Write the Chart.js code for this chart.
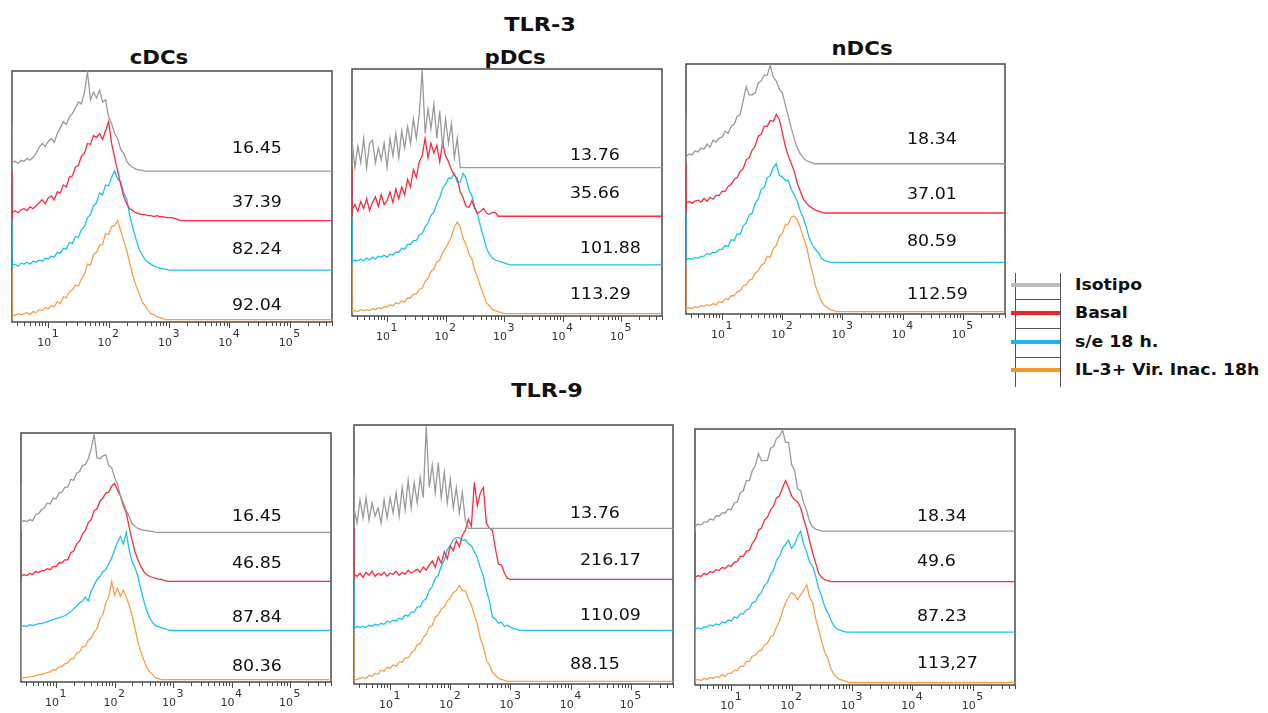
<!DOCTYPE html>
<html>
<head>
<meta charset="utf-8">
<script src="https://cdn.jsdelivr.net/npm/chart.js@4.4.1/dist/chart.umd.min.js"></script>
<style>
  body { margin: 0; width: 1268px; height: 713px; background: #fff; position: relative; overflow: hidden;
         font-family: "DejaVu Sans", sans-serif; }
  .panel { position: absolute; }
  .title { position: absolute; font-weight: bold; color: #111; white-space: nowrap; line-height: 1;
           transform: translateX(-50%) scaleX(1.12); }
  .legend { position: absolute; left: 1015px; top: 273px; width: 250px; height: 114px; }
  .legend .col { position: absolute; top: 0; width: 1px; height: 114px; background: #555; }
  .legend .sep { position: absolute; left: 0; width: 45px; height: 1px; background: #555; }
  .legend .swatch { position: absolute; left: -4px; width: 49px; height: 4px; }
  .legend .txt { position: absolute; left: 60px; font-weight: bold; font-size: 16px; line-height: 1;
                 color: #111; white-space: nowrap; transform-origin: left center; transform: scaleX(1.08); }
</style>
</head>
<body>
<div class="title" style="left:540px;top:14px;font-size:20px">TLR-3</div>
<div class="title" style="left:159px;top:48px;font-size:19px">cDCs</div>
<div class="title" style="left:515px;top:48px;font-size:19px">pDCs</div>
<div class="title" style="left:862px;top:39px;font-size:19px">nDCs</div>
<div class="title" style="left:547px;top:380px;font-size:20px">TLR-9</div>

<div class="legend" id="legend"></div>

<script>
// ---- data ----
const SERIES = ['Isotipo', 'Basal', 's/e 18 h.', 'IL-3+ Vir. Inac. 18h'];
const COLORS = ['#9a9a9a', '#ff2a3c', '#1fc2ee', '#f7a04a'];
const LEGEND_COLORS = ['#bdbdbd', '#e8262e', '#1ab6ee', '#f5952e'];

// log10 fluorescence bin centres (x positions of histogram points)
const BINS = [0.40, 0.45, 0.50, 0.55, 0.60, 0.65, 0.70, 0.75, 0.80, 0.85,
              0.90, 0.95, 1.00, 1.05, 1.10, 1.15, 1.20, 1.25, 1.30, 1.35,
              1.40, 1.45, 1.50, 1.55, 1.60, 1.65, 1.70, 1.75, 1.80, 1.85,
              1.90, 1.95, 2.00, 2.05, 2.10, 2.15, 2.20, 2.25, 2.30, 2.35,
              2.40, 2.45, 2.50, 2.55, 2.60, 2.65, 2.70, 2.75, 2.80, 2.85,
              2.90, 2.95, 3.00, 3.05, 3.10, 3.15, 3.20];
const TICK_EXP = [1, 2, 3, 4, 5];
const TICK_BASE = '10';

// % of mode, one value per bin
const T3_CDC_ISO   = [9,10,8,11,10,13,11,14,18,24, 28,25,30,33,29,38,44,50,47,55, 58,64,70,68,80,100,72,80,74,82, 70,72,55,48,38,33,22,18,10,6, 4,2,1,1,0];
const T3_CDC_BASAL = [8,10,8,11,12,10,14,12,15,18, 21,17,23,25,21,29,28,36,34,44, 45,54,56,65,68,78,77,86,84,88, 82,91,100,78,64,50,37,24,17,12, 10,8,7,6,6,5,5,4,5,4, 4,3,3,3,2,1,0];
const T3_CDC_SE    = [5,6,4,7,6,8,6,9,8,10, 9,12,11,14,13,18,17,22,21,28, 27,34,33,41,44,53,56,65,68,78, 76,86,85,94,100,92,89,78,72,55, 43,32,22,16,11,8,6,4,3,2, 1,1,0];
const T3_CDC_IL3   = [5,4,6,5,6,7,5,8,7,10, 9,12,11,14,13,18,16,23,22,28, 30,35,34,41,46,56,55,66,68,75, 76,87,86,94,95,100,90,80,70,57, 45,35,27,19,14,10,6,5,3,2, 1,0];

const T3_PDC_ISO   = [28,0,22,5,30,0,25,28,5,20, 8,25,0,30,12,35,10,38,20,42, 25,50,30,55,100,35,60,40,65,30, 58,20,50,25,45,10,30,0];
const T3_PDC_BASAL = [6,12,5,15,8,18,6,14,20,10, 22,12,16,25,14,28,18,30,22,38, 30,48,40,56,62,80,60,75,65,73, 56,76,62,56,48,42,39,25,19,10, 9,16,8,3,5,8,3,2,4,4, 0];
const T3_PDC_SE    = [3,5,4,6,4,7,5,8,6,9, 8,10,8,11,10,13,13,17,16,21, 21,25,25,31,32,39,43,51,54,63, 69,79,83,89,89,94,85,85,94,89, 77,71,59,51,39,28,17,11,7,5, 4,3,2,1,0];
const T3_PDC_IL3   = [2,3,2,4,3,4,3,5,4,6, 5,7,7,9,8,11,10,13,12,16, 16,20,20,25,26,33,36,43,46,53, 55,63,67,73,79,89,94,89,77,71, 61,56,44,37,27,19,11,8,4,3, 2,1,0];

const T3_NDC_ISO   = [7,10,9,13,12,16,15,20,17,24, 22,26,27,33,31,38,40,48,50,64, 78,70,70,72,82,84,90,90,100,88, 84,76,72,60,48,36,25,16,10,6, 3,2,1,0];
const T3_NDC_BASAL = [10,12,10,12,13,11,15,12,16,14, 18,18,22,22,27,29,34,36,42,45, 54,56,64,68,78,80,88,88,94,93, 100,95,82,68,58,50,42,30,22,14, 10,7,5,3,2,1,0];
const T3_NDC_SE    = [2,4,3,5,4,6,6,9,8,10, 10,13,13,17,16,23,22,29,28,37, 40,48,50,60,64,74,76,86,88,96, 100,88,87,83,83,74,68,62,52,45, 35,24,18,13,10,4,2,1,0];
const T3_NDC_IL3   = [3,4,3,5,4,6,5,7,6,8, 7,10,9,13,12,16,16,20,21,26, 27,32,33,39,41,47,49,56,55,64, 67,76,79,88,89,96,97,93,85,75, 67,52,40,26,18,10,6,4,2,1, 0];

const T9_CDC_ISO   = [10,12,11,13,12,18,19,23,25,30, 29,35,34,40,41,46,46,54,53,60, 62,68,69,75,85,100,76,75,78,79, 68,66,56,49,37,30,22,16,9,6, 4,3,2,2,1,1,0];
const T9_CDC_BASAL = [5,7,6,8,7,10,9,11,11,13, 12,15,15,19,19,22,22,29,31,38, 41,48,52,60,63,72,74,82,85,90, 91,97,100,93,87,77,70,55,42,30, 22,15,10,7,5,4,3,2,2,1, 0];
const T9_CDC_SE    = [4,5,4,6,5,6,7,7,8,9, 10,11,12,13,14,15,17,19,22,25, 28,30,34,30,40,46,52,55,60,62, 68,74,82,90,96,88,100,82,70,64, 55,42,30,20,13,8,5,4,3,2, 1,0];
const T9_CDC_IL3   = [1,2,2,3,3,4,5,5,6,7, 8,10,10,13,13,16,17,21,21,27, 28,33,34,40,42,48,52,62,66,78, 84,100,86,93,85,91,84,76,65,52, 38,28,20,12,8,5,2,1,0];

const T9_PDC_ISO   = [20,5,28,10,30,8,25,12,20,5, 28,10,30,15,35,12,40,18,47,20, 45,25,50,30,100,40,62,35,64,30, 55,25,48,20,40,15,35,8,0];
const T9_PDC_BASAL = [5,3,6,2,7,4,8,3,6,4, 7,3,6,5,8,4,7,5,9,6, 8,10,7,12,9,14,18,12,22,16, 27,20,33,28,38,32,43,48,59,52, 95,72,85,90,55,50,48,30,15,14, 6,1,0];
const T9_PDC_SE    = [2,4,3,4,3,5,4,6,5,7, 6,9,8,10,9,12,11,15,14,18, 18,23,23,29,31,39,43,51,54,63, 69,79,83,89,91,91,88,89,85,83, 77,71,61,53,39,29,13,11,7,8, 4,5,3,2,1,0];
const T9_PDC_IL3   = [1,2,3,4,3,6,5,8,7,11, 10,14,13,16,15,19,19,23,23,28, 30,36,37,43,46,53,55,63,65,71, 73,79,82,87,89,94,89,89,81,75, 65,56,42,34,21,16,9,6,3,2, 1,0];

const T9_NDC_ISO   = [5,7,6,9,9,12,11,15,15,18, 18,22,21,28,29,38,40,50,50,60, 65,77,70,70,70,82,84,92,94,100, 88,88,66,60,42,40,28,20,9,4, 2,1,0];
const T9_NDC_BASAL = [4,6,5,8,7,10,9,12,11,14, 13,16,15,19,20,25,25,30,31,38, 42,51,53,61,64,71,75,83,85,93, 100,93,85,81,79,73,62,52,40,28, 18,8,4,2,1,0];
const T9_NDC_SE    = [3,4,3,5,5,7,6,8,7,10, 9,12,11,15,14,18,18,22,23,29, 30,36,39,46,49,57,61,71,75,83, 87,91,83,87,95,100,87,79,69,65, 55,43,35,25,19,12,6,3,2,1, 0];
const T9_NDC_IL3   = [2,3,2,4,3,5,4,6,5,8, 6,9,9,12,12,16,16,21,21,26, 27,31,32,37,39,45,47,55,61,71, 79,85,89,87,82,87,91,97,84,79, 63,52,40,30,24,14,8,5,3,2, 1,0];

// MFI shown next to each histogram
const T3_CDC_MFI = ['16.45', '37.39', '82.24', '92.04'];
const T3_PDC_MFI = ['13.76', '35.66', '101.88', '113.29'];
const T3_NDC_MFI = ['18.34', '37.01', '80.59', '112.59'];
const T9_CDC_MFI = ['16.45', '46.85', '87.84', '80.36'];
const T9_PDC_MFI = ['13.76', '216.17', '110.09', '88.15'];
const T9_NDC_MFI = ['18.34', '49.6', '87.23', '113,27'];

// ---- layout ----
const X_MIN = 0.4, X_MAX = 5.7;
const Y_MIN = -1, Y_MAX = 100.5;
const OFFSETS = [60, 40, 20, 0];   // staggered baselines
const SCALE = 0.4;                 // 100% of mode = 40 y-units
const EDGE = 50;                   // first (off-scale) bin

const PANELS = [
  { box: [12, 71, 320, 251],  curves: [T3_CDC_ISO, T3_CDC_BASAL, T3_CDC_SE, T3_CDC_IL3], mfi: T3_CDC_MFI, lx: [220, 220, 220, 220], dy: [22, 18, 20, 13] },
  { box: [352, 69, 310, 247], curves: [T3_PDC_ISO, T3_PDC_BASAL, T3_PDC_SE, T3_PDC_IL3], mfi: T3_PDC_MFI, lx: [218, 218, 228, 218], dy: [11, 22, 16, 18] },
  { box: [686, 64, 319, 250], curves: [T3_NDC_ISO, T3_NDC_BASAL, T3_NDC_SE, T3_NDC_IL3], mfi: T3_NDC_MFI, lx: [221, 221, 221, 221], dy: [24, 18, 20, 16] },
  { box: [21, 433, 310, 249], curves: [T9_CDC_ISO, T9_CDC_BASAL, T9_CDC_SE, T9_CDC_IL3], mfi: T9_CDC_MFI, lx: [211, 211, 211, 211], dy: [15, 17, 12, 12] },
  { box: [354, 425, 319, 259], curves: [T9_PDC_ISO, T9_PDC_BASAL, T9_PDC_SE, T9_PDC_IL3], mfi: T9_PDC_MFI, lx: [216, 226, 226, 216], dy: [14, 18, 14, 16] },
  { box: [695, 429, 320, 256], curves: [T9_NDC_ISO, T9_NDC_BASAL, T9_NDC_SE, T9_NDC_IL3], mfi: T9_NDC_MFI, lx: [222, 222, 222, 222], dy: [14, 19, 15, 18] },
];

function toPoints(h, offset) {
  const pts = [{ x: X_MIN, y: offset }, { x: X_MIN, y: offset + EDGE * SCALE }];
  h.forEach((v, i) => pts.push({ x: BINS[i], y: offset + v * SCALE }));
  pts.push({ x: X_MAX, y: offset });
  return pts;
}

// frame, log ticks, decade labels and MFI labels
const flowPlugin = {
  id: 'flow',
  beforeDatasetsDraw(chart) {
    const { ctx, chartArea: a } = chart;
    const xs = chart.scales.x;
    ctx.save();
    ctx.strokeStyle = '#4a4a4a';
    ctx.lineWidth = 1.5;
    ctx.strokeRect(a.left, a.top, a.width, a.height);
    ctx.lineWidth = 1;
    for (let n = 0; n <= 5; n++) {
      for (let k = 1; k <= 9; k++) {
        const v = n + Math.log10(k);
        if (v < xs.min || v > xs.max) continue;
        const px = Math.round(xs.getPixelForValue(v)) + 0.5;
        ctx.beginPath();
        ctx.moveTo(px, a.bottom);
        ctx.lineTo(px, a.bottom + (k === 1 ? 6 : 4));
        ctx.stroke();
      }
    }
    // decade labels: 10 with raised exponent
    ctx.fillStyle = '#333';
    ctx.font = '11px "DejaVu Sans"';
    ctx.textBaseline = 'middle';
    ctx.textAlign = 'center';
    TICK_EXP.forEach(e => {
      const px = xs.getPixelForValue(e);
      ctx.fillText(TICK_BASE, px - 4, a.bottom + 21);
      ctx.fillText(String(e), px + 7, a.bottom + 12);
    });
    ctx.restore();
  },
  afterDatasetsDraw(chart, args, opts) {
    const { ctx, chartArea: a } = chart;
    const ys = chart.scales.y;
    ctx.save();
    ctx.fillStyle = '#111';
    ctx.font = '15px "DejaVu Sans"';
    ctx.textBaseline = 'middle';
    opts.mfi.forEach((t, i) => {
      const y = ys.getPixelForValue(OFFSETS[i]) - opts.dy[i];
      ctx.save();
      ctx.translate(a.left + opts.lx[i], y);
      ctx.scale(1.16, 1);
      ctx.fillText(t, 0, 0);
      ctx.restore();
    });
    ctx.restore();
  }
};

PANELS.forEach(p => {
  const [left, top, w, h] = p.box;
  const div = document.createElement('div');
  div.className = 'panel';
  div.style.left = (left - 4) + 'px';
  div.style.top = (top - 4) + 'px';
  const cv = document.createElement('canvas');
  cv.width = w + 8;
  cv.height = h + 4 + 32;
  div.appendChild(cv);
  document.body.appendChild(div);

  new Chart(cv, {
    type: 'line',
    data: {
      datasets: p.curves.map((c, i) => ({
        label: SERIES[i],
        data: toPoints(c, OFFSETS[i]),
        borderColor: COLORS[i],
        borderWidth: 1.3,
        pointRadius: 0,
        tension: 0,
        fill: false,
      })),
    },
    options: {
      responsive: false,
      animation: false,
      devicePixelRatio: 1,
      layout: { padding: { left: 4, right: 4, top: 4, bottom: 0 } },
      plugins: {
        legend: { display: false },
        tooltip: { enabled: false },
        flow: { mfi: p.mfi, lx: p.lx, dy: p.dy },
      },
      scales: {
        x: {
          type: 'linear', min: X_MIN, max: X_MAX,
          grid: { display: false, drawTicks: false },
          border: { display: false },
          afterBuildTicks: s => { s.ticks = TICK_EXP.map(v => ({ value: v })); },
          afterFit: s => { s.height = 32; },
          ticks: { display: false },
        },
        y: { display: false, min: Y_MIN, max: Y_MAX },
      },
    },
    plugins: [flowPlugin],
  });
});

// legend table
const lg = document.getElementById('legend');
const rowY = [12, 40, 69, 97];
[0, 45].forEach(x => {
  const c = document.createElement('div');
  c.className = 'col';
  c.style.left = x + 'px';
  lg.appendChild(c);
});
[26, 55, 84].forEach(y => {
  const s = document.createElement('div');
  s.className = 'sep';
  s.style.top = y + 'px';
  lg.appendChild(s);
});
SERIES.forEach((name, i) => {
  const sw = document.createElement('div');
  sw.className = 'swatch';
  sw.style.top = (rowY[i] - 2) + 'px';
  sw.style.background = LEGEND_COLORS[i];
  lg.appendChild(sw);
  const t = document.createElement('div');
  t.className = 'txt';
  t.style.top = (rowY[i] - 8) + 'px';
  t.textContent = name;
  lg.appendChild(t);
});
</script>
</body>
</html>
